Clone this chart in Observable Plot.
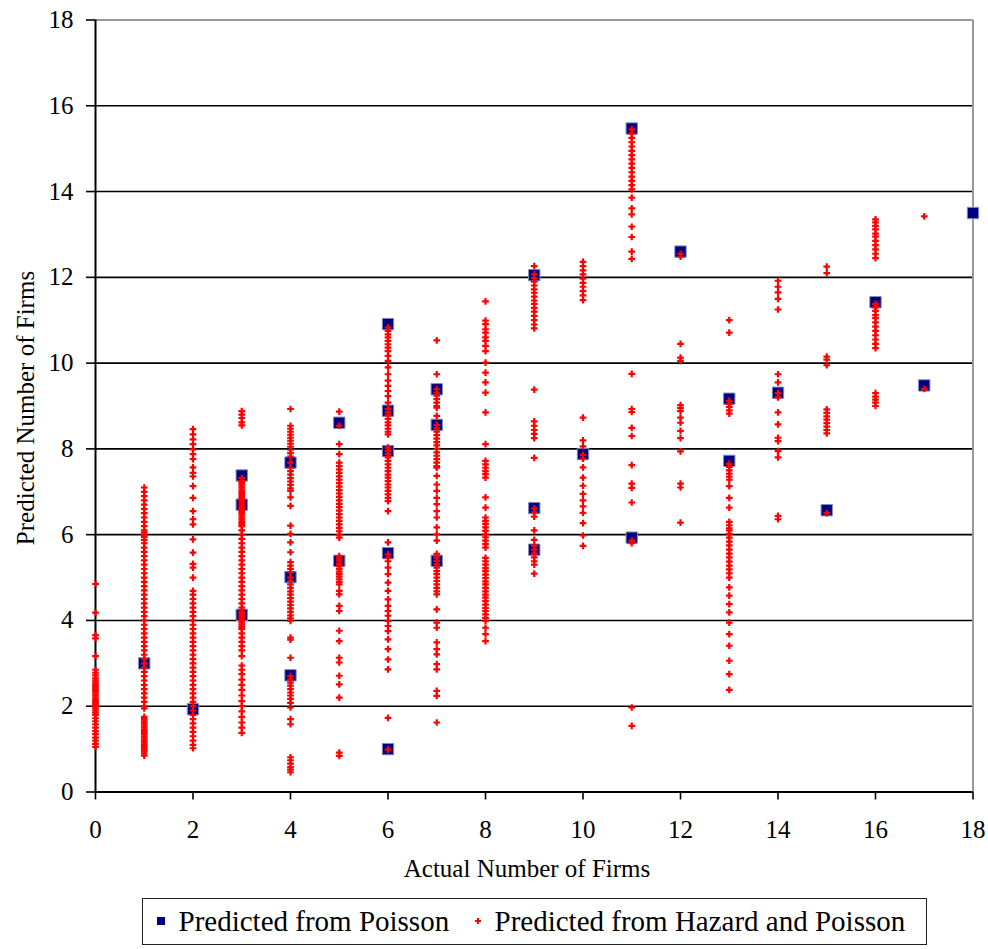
<!DOCTYPE html>
<html>
<head>
<meta charset="utf-8">
<script src="https://cdn.jsdelivr.net/npm/d3@7"></script>
<script src="https://cdn.jsdelivr.net/npm/@observablehq/plot@0.6"></script>
<style>
  html, body { margin: 0; padding: 0; background: #fff; }
  #wrap { position: relative; width: 988px; height: 949px; overflow: hidden; font-family: "Liberation Serif", "Times New Roman", serif; color: #000; }
  #chart { position: absolute; left: 0; top: 0; }
  .t { position: absolute; white-space: nowrap; line-height: 25px; font-size: 25px; font-family: "Liberation Serif", "Times New Roman", serif; }
  #legend { position: absolute; left: 142px; top: 898px; width: 783px; height: 45px; border: 1.5px solid #222; background: #fff; }
  .lg { position: absolute; white-space: nowrap; font-size: 29px; line-height: 29px; font-family: "Liberation Serif", "Times New Roman", serif; }
</style>
</head>
<body>
<div id="wrap">
  <div id="chart"></div>
  <div class="t" id="ytitle" style="left:24.5px; top:408px; transform: translate(-50%,-50%) rotate(-90deg);">Predicted Number of Firms</div>
  <div class="t" id="xtitle" style="left:527px; top:856px; transform: translateX(-50%);">Actual Number of Firms</div>
  <div id="legend"></div>
</div>
<script>
// Actual number of firms (x) and predicted values from the Poisson model (blue squares)
const poissonActual = [1, 2, 3, 3, 3, 4, 4, 4, 5, 5, 6, 6, 6, 6, 6, 7, 7, 7, 9, 9, 9, 10, 11, 11, 12, 13, 13, 14, 15, 16, 17, 18];
const poissonPred   = [3.0, 1.93, 7.38, 6.7, 4.13, 7.68, 5.01, 2.72, 8.61, 5.39, 10.91, 8.89, 7.95, 5.57, 1.0, 9.39, 8.56, 5.39, 12.05, 6.62, 5.65, 7.88, 15.47, 5.93, 12.6, 9.17, 7.72, 9.31, 6.57, 11.42, 9.48, 13.5];

// Predicted from Hazard and Poisson (red plusses), one list per actual number of firms
const hazard0 = [4.85, 4.18, 3.66, 3.58, 3.17, 2.85, 2.78, 2.72, 2.65, 2.6, 2.55, 2.5, 2.45, 2.4, 2.35, 2.3, 2.25, 2.2, 2.15, 2.1, 2.05, 2.0, 1.95, 1.9, 1.85, 1.8, 1.72, 1.65, 1.58, 1.5, 1.42, 1.35, 1.27, 1.2, 1.12, 1.05];
const hazard1 = [7.1, 7.0, 6.9, 6.8, 6.7, 6.6, 6.5, 6.4, 6.3, 6.2, 6.1, 6.05, 6.0, 5.95, 5.88, 5.8, 5.7, 5.6, 5.5, 5.4, 5.3, 5.2, 5.1, 5.0, 4.9, 4.8, 4.7, 4.6, 4.5, 4.4, 4.3, 4.2, 4.1, 4.0, 3.9, 3.8, 3.7, 3.6, 3.5, 3.4, 3.3, 3.2, 3.1, 3.0, 2.9, 2.8, 2.7, 2.6, 2.5, 2.4, 2.3, 2.2, 2.1, 2.0, 1.95, 1.75, 1.7, 1.65, 1.6, 1.55, 1.5, 1.45, 1.4, 1.35, 1.3, 1.25, 1.2, 1.15, 1.1, 1.05, 1.0, 0.95, 0.9, 0.85];
const hazard2 = [8.46, 8.34, 8.22, 8.11, 7.99, 7.88, 7.76, 7.57, 7.44, 7.36, 7.13, 6.86, 6.55, 6.36, 6.24, 5.89, 5.58, 5.32, 5.23, 5.0, 4.69, 4.6, 4.5, 4.4, 4.3, 4.2, 4.1, 4.0, 3.9, 3.8, 3.7, 3.6, 3.5, 3.4, 3.3, 3.2, 3.1, 3.0, 2.9, 2.8, 2.7, 2.6, 2.5, 2.4, 2.3, 2.2, 2.1, 2.0, 1.9, 1.8, 1.7, 1.6, 1.5, 1.4, 1.3, 1.2, 1.1, 1.02];
const hazard3 = [8.88, 8.8, 8.72, 8.62, 8.55, 7.32, 7.25, 7.2, 7.15, 7.1, 7.05, 7.0, 6.95, 6.9, 6.85, 6.8, 6.75, 6.7, 6.65, 6.6, 6.55, 6.5, 6.45, 6.4, 6.35, 6.3, 6.25, 6.2, 6.1, 6.0, 5.9, 5.8, 5.7, 5.6, 5.5, 5.4, 5.3, 5.2, 5.1, 5.0, 4.9, 4.8, 4.7, 4.6, 4.5, 4.4, 4.3, 4.2, 4.15, 4.1, 4.05, 4.0, 3.95, 3.9, 3.85, 3.8, 3.7, 3.6, 3.5, 3.4, 3.3, 3.17, 2.95, 2.85, 2.75, 2.62, 2.5, 2.38, 2.25, 2.12, 2.0, 1.88, 1.75, 1.62, 1.5, 1.38];
const hazard4 = [8.93, 8.54, 8.47, 8.4, 8.33, 8.26, 8.19, 8.12, 8.05, 7.98, 7.9, 7.82, 7.68, 7.56, 7.48, 7.4, 7.32, 7.24, 7.16, 7.08, 7.02, 6.87, 6.67, 6.21, 6.02, 5.82, 5.59, 5.36, 5.28, 5.2, 5.13, 5.0, 4.92, 4.84, 4.76, 4.68, 4.6, 4.52, 4.44, 4.36, 4.28, 4.2, 4.12, 4.05, 3.99, 3.6, 3.55, 3.13, 2.7, 2.62, 2.55, 2.48, 2.4, 2.32, 2.25, 2.17, 2.08, 1.97, 1.7, 1.58, 0.81, 0.74, 0.66, 0.58, 0.52, 0.46];
const hazard5 = [8.87, 8.54, 8.11, 7.88, 7.68, 7.6, 7.52, 7.44, 7.36, 7.28, 7.2, 7.12, 7.04, 6.96, 6.88, 6.8, 6.72, 6.64, 6.56, 6.48, 6.4, 6.32, 6.24, 6.16, 6.08, 6.0, 5.93, 5.5, 5.44, 5.38, 5.32, 5.26, 5.2, 5.14, 5.08, 5.02, 4.96, 4.9, 4.84, 4.69, 4.61, 4.34, 4.22, 3.76, 3.52, 3.13, 3.02, 2.71, 2.51, 2.2, 0.92, 0.84];
const hazard6 = [10.83, 10.75, 10.67, 10.6, 10.52, 10.44, 10.36, 10.28, 10.17, 10.05, 9.9, 9.74, 9.59, 9.47, 9.35, 9.23, 9.08, 8.93, 8.85, 8.78, 8.7, 8.62, 8.55, 8.47, 8.4, 8.34, 8.03, 7.95, 7.88, 7.8, 7.72, 7.64, 7.56, 7.48, 7.4, 7.33, 7.25, 7.17, 7.1, 7.02, 6.94, 6.86, 6.78, 6.55, 5.82, 5.54, 5.46, 5.38, 5.23, 5.08, 4.88, 4.69, 4.49, 4.34, 4.22, 4.11, 3.99, 3.87, 3.75, 3.56, 3.33, 3.09, 2.86, 1.73, 0.99];
const hazard7 = [10.53, 9.74, 9.39, 9.31, 9.24, 9.16, 9.08, 9.0, 8.96, 8.77, 8.56, 8.48, 8.4, 8.32, 8.24, 8.16, 8.08, 8.0, 7.92, 7.84, 7.76, 7.68, 7.6, 7.56, 7.37, 7.17, 7.02, 6.86, 6.71, 6.55, 6.4, 6.17, 6.01, 5.86, 5.55, 5.47, 5.39, 5.31, 5.23, 5.15, 5.08, 5.0, 4.92, 4.84, 4.76, 4.68, 4.61, 4.26, 3.95, 3.83, 3.49, 3.33, 3.21, 2.98, 2.86, 2.36, 2.24, 1.62];
const hazard8 = [11.44, 10.99, 10.91, 10.79, 10.71, 10.6, 10.52, 10.4, 10.28, 10.01, 9.78, 9.55, 9.31, 8.85, 8.11, 7.72, 7.64, 7.56, 7.48, 7.41, 7.33, 6.87, 6.63, 6.4, 6.32, 6.25, 6.17, 6.09, 6.01, 5.94, 5.86, 5.78, 5.7, 5.46, 5.38, 5.3, 5.22, 5.15, 5.07, 4.99, 4.91, 4.84, 4.76, 4.68, 4.6, 4.53, 4.45, 4.37, 4.29, 4.22, 4.14, 4.06, 3.99, 3.83, 3.68, 3.52];
const hazard9 = [12.26, 12.07, 11.98, 11.9, 11.81, 11.72, 11.64, 11.55, 11.46, 11.38, 11.29, 11.2, 11.1, 11.0, 10.9, 10.81, 9.38, 8.64, 8.54, 8.44, 8.35, 8.25, 7.79, 6.61, 6.52, 6.42, 6.1, 5.88, 5.74, 5.65, 5.56, 5.47, 5.38, 5.3, 5.09];
const hazard10 = [12.36, 12.26, 12.16, 12.07, 11.97, 11.87, 11.78, 11.68, 11.58, 11.47, 8.73, 8.2, 8.06, 7.86, 7.77, 7.57, 7.33, 7.14, 6.95, 6.8, 6.66, 6.51, 6.27, 5.98, 5.74];
const hazard11 = [15.45, 15.35, 15.25, 15.15, 15.05, 14.95, 14.85, 14.75, 14.65, 14.55, 14.45, 14.35, 14.25, 14.15, 14.05, 13.86, 13.61, 13.47, 13.18, 12.94, 12.6, 12.43, 9.75, 8.93, 8.86, 8.49, 8.3, 7.62, 7.19, 7.09, 6.75, 5.86, 5.8, 1.97, 1.54];
const hazard12 = [12.55, 12.48, 10.45, 10.13, 10.05, 9.02, 8.95, 8.88, 8.73, 8.61, 8.42, 8.25, 7.94, 7.19, 7.1, 6.28];
const hazard13 = [11.0, 10.71, 9.12, 9.05, 8.98, 8.9, 8.82, 7.65, 7.58, 7.5, 7.42, 7.35, 7.28, 7.13, 6.86, 6.63, 6.3, 6.22, 6.15, 6.1, 6.02, 5.93, 5.84, 5.75, 5.65, 5.56, 5.47, 5.37, 5.28, 5.19, 5.1, 5.0, 4.77, 4.58, 4.38, 4.19, 3.95, 3.68, 3.41, 3.06, 2.75, 2.38];
const hazard14 = [11.92, 11.78, 11.65, 11.5, 11.25, 9.74, 9.55, 9.3, 9.2, 8.85, 8.57, 8.26, 8.18, 7.95, 7.8, 6.44, 6.36];
const hazard15 = [12.25, 12.1, 10.15, 10.08, 9.95, 8.92, 8.84, 8.76, 8.68, 8.6, 8.52, 8.44, 8.36, 6.5];
const hazard16 = [13.35, 13.28, 13.2, 13.12, 13.02, 12.95, 12.85, 12.75, 12.65, 12.55, 12.45, 11.38, 11.3, 11.22, 11.12, 11.05, 10.95, 10.85, 10.75, 10.65, 10.55, 10.45, 10.35, 9.3, 9.22, 9.15, 9.08, 9.0];
const hazard17 = [13.42, 9.4];

const hazardActual = [0, 1, 2, 3, 4, 5, 6, 7, 8, 9, 10, 11, 12, 13, 14, 15, 16, 17];
const hazardLists = [hazard0, hazard1, hazard2, hazard3, hazard4, hazard5, hazard6, hazard7, hazard8, hazard9, hazard10, hazard11, hazard12, hazard13, hazard14, hazard15, hazard16, hazard17];

// Axis ticks
const xTicks = [0, 2, 4, 6, 8, 10, 12, 14, 16, 18];
const yTicks = [0, 2, 4, 6, 8, 10, 12, 14, 16, 18];
const gridY = [2, 4, 6, 8, 10, 12, 14, 16];

const legendLabels = ["Predicted from Poisson", "Predicted from Hazard and Poisson"];

const poisson = poissonActual.map((a, i) => ({actual: a, predicted: poissonPred[i]}));
const hazard = hazardLists.flatMap((list, i) => list.map(v => ({actual: hazardActual[i], predicted: v})));

const chart = Plot.plot({
  width: 988,
  height: 880,
  marginLeft: 95,
  marginRight: 15.5,
  marginTop: 19.5,
  marginBottom: 88.5,
  x: {domain: [0, 18]},
  y: {domain: [0, 18]},
  style: {fontFamily: '"Liberation Serif", "Times New Roman", serif', fontSize: "25px", color: "#000", background: "transparent", overflow: "visible"},
  marks: [
    Plot.ruleY(gridY, {stroke: "#000", strokeWidth: 1.6}),
    Plot.ruleY([18], {stroke: "#9a9a9a", strokeWidth: 2}),
    Plot.ruleX([18], {stroke: "#9a9a9a", strokeWidth: 2}),
    Plot.axisY({ticks: yTicks, tickSize: 9, tickPadding: 13, label: null, strokeWidth: 1.6, tickFormat: d => String(d)}),
    Plot.axisX({ticks: xTicks, tickSize: 8, tickPadding: 20, label: null, strokeWidth: 1.6, tickFormat: d => String(d)}),
    Plot.ruleX([0], {stroke: "#000", strokeWidth: 2}),
    Plot.ruleY([0], {stroke: "#000", strokeWidth: 2}),
    Plot.dot(poisson, {x: "actual", y: "predicted", symbol: "square", r: 6.4, fill: "#000080", stroke: "#7f8fb8", strokeWidth: 1}),
    Plot.dot(hazard, {x: "actual", y: "predicted", symbol: "plus", r: 2.3, fill: "none", stroke: "#ff0000", strokeWidth: 2.2})
  ]
});
document.getElementById("chart").appendChild(chart);

// Legend (HTML, below the SVG)
const legend = document.getElementById("legend");
legend.innerHTML = `
  <div style="position:absolute; left:13.5px; top:17.5px; width:8px; height:8px; background:#000080;"></div>
  <div class="lg" style="left:35.5px; top:7.5px;">${legendLabels[0]}</div>
  <svg style="position:absolute; left:332px; top:19px;" width="6" height="6"><path d="M0,3H6M3,0V6" stroke="#ff0000" stroke-width="2"/></svg>
  <div class="lg" style="left:351.5px; top:7.5px;">${legendLabels[1]}</div>
`;
</script>
</body>
</html>
